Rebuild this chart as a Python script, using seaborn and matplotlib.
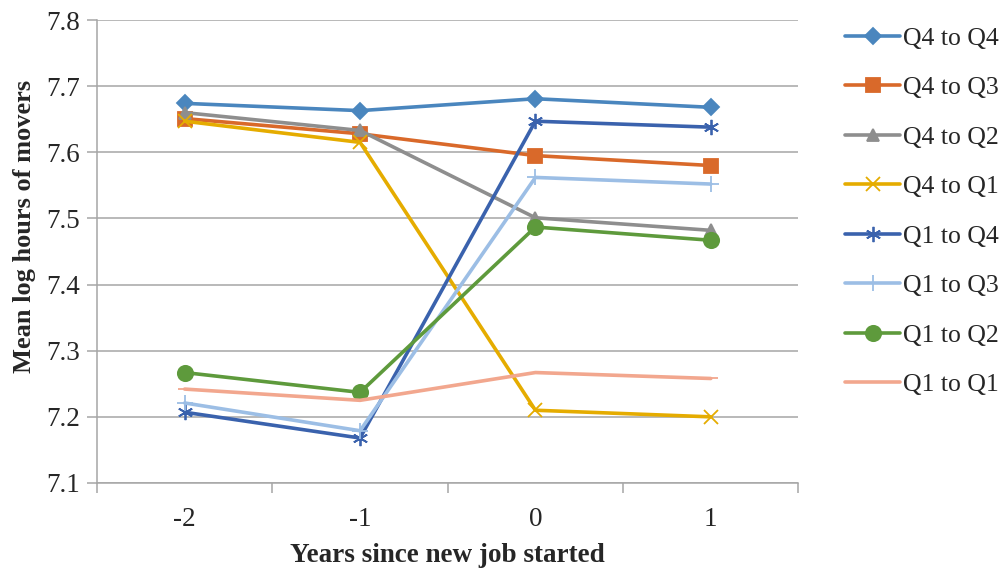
import numpy as np
import pandas as pd
import seaborn as sns
import matplotlib.pyplot as plt
from matplotlib.ticker import MultipleLocator, FixedLocator

years = [-2, -1, 0, 1]
series_names = ['Q4 to Q4', 'Q4 to Q3', 'Q4 to Q2', 'Q4 to Q1',
                'Q1 to Q4', 'Q1 to Q3', 'Q1 to Q2', 'Q1 to Q1']

q4_to_q4 = [7.674, 7.663, 7.681, 7.668]
q4_to_q3 = [7.651, 7.628, 7.595, 7.580]
q4_to_q2 = [7.660, 7.633, 7.501, 7.482]
q4_to_q1 = [7.647, 7.615, 7.210, 7.200]
q1_to_q4 = [7.207, 7.168, 7.647, 7.638]
q1_to_q3 = [7.221, 7.179, 7.562, 7.552]
q1_to_q2 = [7.267, 7.237, 7.487, 7.467]
q1_to_q1 = [7.242, 7.225, 7.267, 7.258]

all_values = [q4_to_q4, q4_to_q3, q4_to_q2, q4_to_q1,
              q1_to_q4, q1_to_q3, q1_to_q2, q1_to_q1]

colors = ['#4A86BE', '#D9692A', '#8E8E8E', '#E5AC00',
          '#3A62AD', '#9CBEE5', '#5E9A3C', '#F2A78E']
markers = ['D', 's', '^', 'x', (6, 2, 0), '+', 'o', '_']
msizes = [8, 10, 9, 10, 11, 12, 11, 10]

rows = []
for name, vals in zip(series_names, all_values):
    for yr, v in zip(years, vals):
        rows.append({'year': yr, 'value': v, 'series': name})
df = pd.DataFrame(rows)

sns.set_style('white')
plt.rcParams['font.family'] = ['Liberation Serif', 'DejaVu Serif']

fig = plt.figure(figsize=(10.05, 5.72), dpi=100)
ax = fig.add_axes([0.0965, 0.1556, 0.698, 0.8094])

for name, col, mk, ms in zip(series_names, colors, markers, msizes):
    sub = df[df['series'] == name]
    sns.lineplot(data=sub, x='year', y='value', ax=ax, color=col, marker=mk,
                 markersize=ms, linewidth=2.6, markeredgecolor=col,
                 markeredgewidth=1.3, label=name)

ax.set_xlim(-2.5, 1.5)
ax.set_ylim(7.1, 7.8)
ax.yaxis.set_major_locator(MultipleLocator(0.1))
ax.set_yticklabels([f'{t:.1f}' for t in ax.get_yticks()])
ax.set_xticks(years)
ax.set_xticklabels([str(y) for y in years])
ax.xaxis.set_minor_locator(FixedLocator([-2.5, -1.5, -0.5, 0.5, 1.5]))
ax.grid(axis='y', color='#A6A6A6', linewidth=1.1)
ax.set_axisbelow(True)

for s in ['top', 'right']:
    ax.spines[s].set_visible(False)
for s in ['left', 'bottom']:
    ax.spines[s].set_color('#A6A6A6')
    ax.spines[s].set_linewidth(1.1)

ax.tick_params(axis='y', which='major', length=7, color='#A6A6A6', width=1.1,
               labelsize=19.5, pad=5, left=True)
ax.tick_params(axis='x', which='major', length=0, labelsize=19.5, pad=17)
ax.tick_params(axis='x', which='minor', length=7, color='#A6A6A6', width=1.1,
               bottom=True)

ax.set_xlabel('Years since new job started', fontsize=19.5, fontweight='bold', labelpad=8)
ax.set_ylabel('Mean log hours of movers', fontsize=19, fontweight='bold')
ax.yaxis.set_label_coords(-0.087, 0.555)

ax.legend(loc='upper left', bbox_to_anchor=(1.041, 1.024), frameon=False,
          fontsize=18.5, labelspacing=1.03, handlelength=2.15, handletextpad=0.1,
          borderaxespad=0.3)

fig.savefig('out.png', dpi=100)
